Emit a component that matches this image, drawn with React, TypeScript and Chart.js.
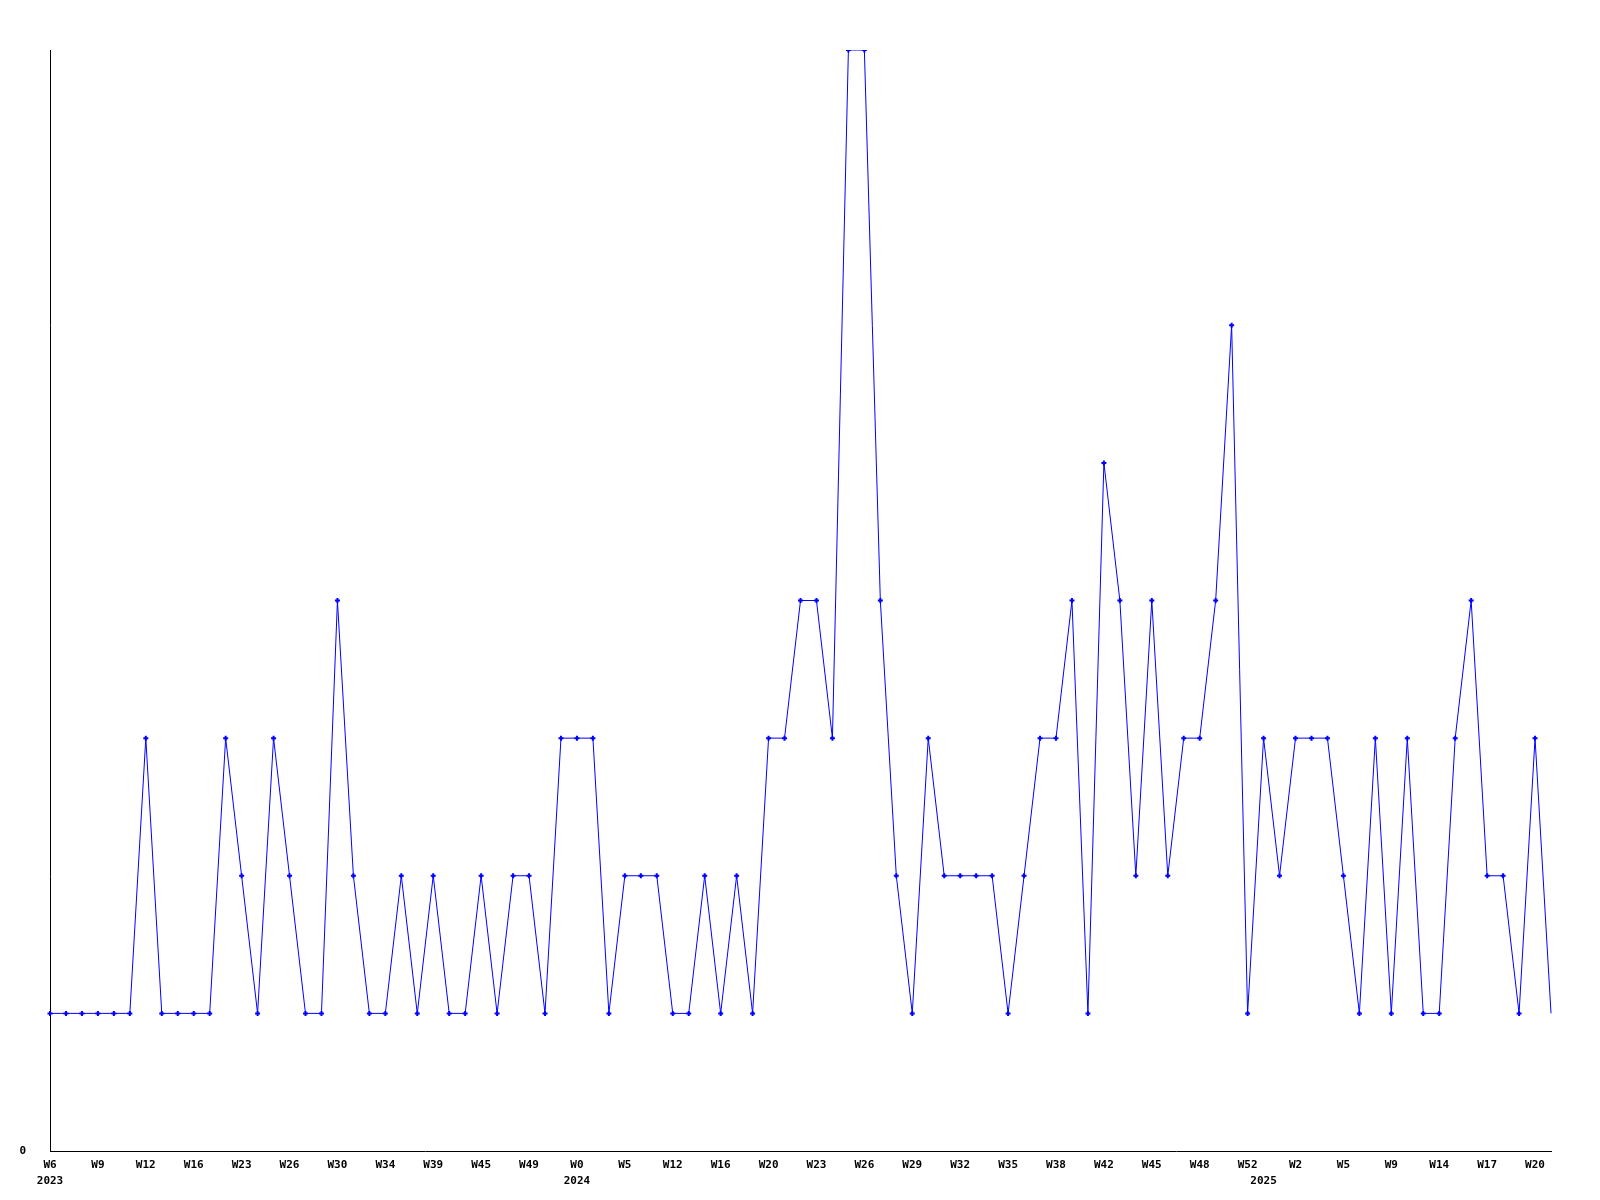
import React, { useEffect, useRef } from "react";
import { Chart, registerables } from "chart.js";

Chart.register(...registerables);

// Week categories (only every third one is shown as a tick label)
const weeks: string[] = [
  "W6", "W7", "W8", "W9", "W10", "W11", "W12", "W13", "W14", "W16",
  "W19", "W21", "W23", "W24", "W25", "W26", "W27", "W28", "W30", "W31",
  "W33", "W34", "W35", "W37", "W39", "W41", "W43", "W45", "W46", "W47",
  "W49", "W50", "W51", "W0", "W1", "W3", "W5", "W7", "W10", "W12",
  "W13", "W14", "W16", "W17", "W18", "W20", "W21", "W22", "W23", "W24",
  "W25", "W26", "W27", "W28", "W29", "W30", "W31", "W32", "W33", "W34",
  "W35", "W36", "W37", "W38", "W39", "W40", "W42", "W43", "W44", "W45",
  "W46", "W47", "W48", "W49", "W51", "W52", "W0", "W1", "W2", "W3",
  "W4", "W5", "W6", "W8", "W9", "W11", "W12", "W14", "W15", "W16",
  "W17", "W18", "W19", "W20", "W21",
];

// Year shown under the first week of each year
const yearIndex: number[] = [0, 33, 76];
const yearNames: string[] = ["2023", "2024", "2025"];

const counts: number[] = [
  1, 1, 1, 1, 1, 1, 3, 1, 1, 1,
  1, 3, 2, 1, 3, 2, 1, 1, 4, 2,
  1, 1, 2, 1, 2, 1, 1, 2, 1, 2,
  2, 1, 3, 3, 3, 1, 2, 2, 2, 1,
  1, 2, 1, 2, 1, 3, 3, 4, 4, 3,
  8, 8, 4, 2, 1, 3, 2, 2, 2, 2,
  1, 2, 3, 3, 4, 1, 5, 4, 2, 4,
  2, 3, 3, 4, 6, 1, 3, 2, 3, 3,
  3, 2, 1, 3, 1, 3, 1, 1, 3, 4,
  2, 2, 1, 3, 1,
];

const yMin = 0;
const yMax = 8;
const labelEvery = 3;

const FONT = {
  family: "'DejaVu Sans Mono', 'Liberation Mono', monospace",
  size: 11,
  weight: "bold" as const,
  lineHeight: 16 / 11,
};

export default function App() {
  const ref = useRef<HTMLCanvasElement>(null);

  useEffect(() => {
    if (!ref.current) return;
    const chart = new Chart(ref.current, {
      type: "line",
      data: {
        labels: weeks,
        datasets: [
          {
            data: counts,
            borderColor: "#0000ff",
            borderWidth: 1,
            tension: 0,
            fill: false,
            pointStyle: "cross",
            pointRadius: (ctx: any) => (ctx.dataIndex === counts.length - 1 ? 0 : 2.5),
            pointBorderWidth: 2,
            pointBorderColor: "#0000ff",
            pointBackgroundColor: "#0000ff",
          },
        ],
      },
      options: {
        animation: false,
        responsive: false,
        maintainAspectRatio: false,
        layout: { padding: { top: 50, right: 49, left: 0, bottom: 0 } },
        plugins: {
          legend: { display: false },
          tooltip: { enabled: false },
        },
        scales: {
          x: {
            grid: { display: false, drawTicks: false },
            border: { display: true, color: "#000000", width: 1 },
            ticks: {
              autoSkip: false,
              maxRotation: 0,
              minRotation: 0,
              padding: 6,
              color: "#000000",
              font: FONT,
              callback: (_v: any, i: number) => {
                const shown = i % labelEvery === 0;
                const yi = yearIndex.indexOf(i);
                if (yi >= 0) return [shown ? weeks[i] : "", yearNames[yi]];
                return shown ? weeks[i] : (null as any);
              },
            },
            afterFit: (s: any) => {
              s.height = 49;
            },
          },
          y: {
            min: yMin,
            max: yMax,
            grid: { display: false, drawTicks: false },
            border: { display: true, color: "#000000", width: 1 },
            ticks: {
              stepSize: 1,
              padding: 24,
              color: "#000000",
              font: FONT,
              callback: (v: any) => (Number(v) === 0 ? "0" : (null as any)),
            },
            afterFit: (s: any) => {
              s.width = 50;
            },
          },
        },
      },
    });
    return () => chart.destroy();
  }, []);

  return (
    <div
      style={{
        position: "fixed",
        left: 0,
        top: 0,
        width: 1600,
        height: 1200,
        background: "#ffffff",
      }}
    >
      <canvas ref={ref} width={1600} height={1200} style={{ display: "block" }} />
    </div>
  );
}
